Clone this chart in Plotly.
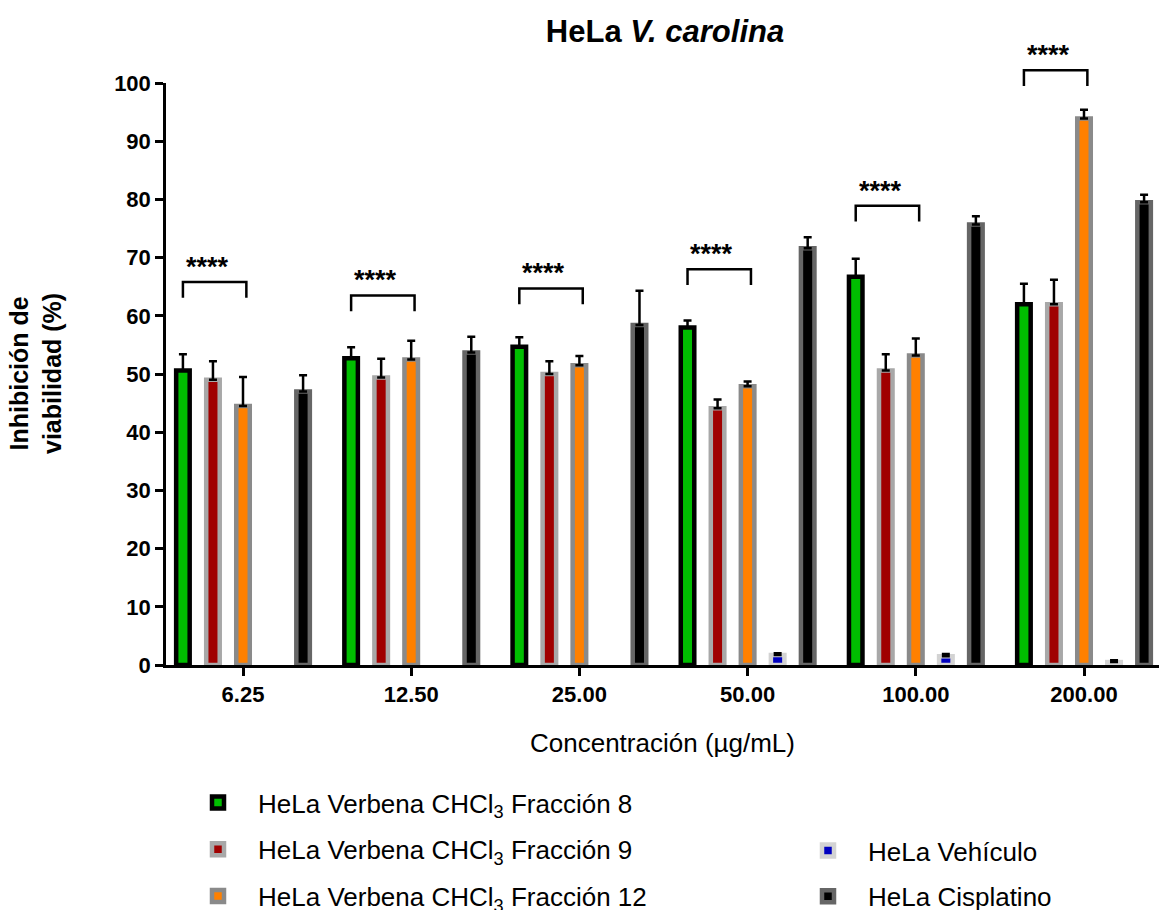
import plotly.graph_objects as go

categories = ["6.25", "12.50", "25.00", "50.00", "100.00", "200.00"]

frac8 = [50.6, 52.7, 54.7, 58.0, 66.7, 62.0]
frac8_err = [2.8, 1.9, 1.6, 1.2, 3.1, 3.5]
frac9 = [49.0, 49.4, 50.0, 44.1, 50.6, 62.0]
frac9_err = [3.2, 3.2, 2.2, 1.5, 2.8, 4.2]
frac12 = [44.5, 52.5, 51.5, 47.9, 53.2, 93.9]
frac12_err = [5.0, 3.2, 1.6, 0.8, 2.9, 1.5]
vehiculo = [None, None, None, 1.7, 1.5, 0.5]
vehiculo_err = [0, 0, 0, 0.3, 0.4, 0.3]
cisplatino = [47.0, 53.7, 58.4, 71.6, 75.7, 79.5]
cisplatino_err = [2.8, 2.7, 5.9, 1.9, 1.4, 1.3]

bracket_y = [65.8, 63.5, 64.7, 68.0, 78.9, 102.2]
star_text = ["****"] * 6

series = [
    ("HeLa Verbena CHCl<sub>3</sub> Fracción 8", frac8, frac8_err, "#00BE00", "#000000", "legend"),
    ("HeLa Verbena CHCl<sub>3</sub> Fracción 9", frac9, frac9_err, "#A00000", "#A8A8A8", "legend"),
    ("HeLa Verbena CHCl<sub>3</sub> Fracción 12", frac12, frac12_err, "#FF8000", "#8A8A8A", "legend"),
    ("HeLa Vehículo", vehiculo, vehiculo_err, "#0000C0", "#D3D3D3", "legend2"),
    ("HeLa Cisplatino", cisplatino, cisplatino_err, "#000000", "#666666", "legend2"),
]

FONT = "Liberation Sans, Arial, sans-serif"
YMAX = 100
fig = go.Figure()
for i, (name, vals, errs, fill, line, lg) in enumerate(series):
    fig.add_trace(go.Bar(
        name=name, x=categories, y=vals,
        marker=dict(color=fill, line=dict(color=line, width=4.5)),
        error_y=dict(type="data", array=errs, arrayminus=[0] * len(errs), symmetric=False,
                     color="black", thickness=2.5, width=4),
        legend=lg, legendgroup=f"g{i}",
    ))

bargap = 0.107
slot = (1 - bargap) / 5
shapes = []
annotations = []
for i, by in enumerate(bracket_y):
    x0 = i - 2 * slot
    x1 = i + 0.02
    leg = 2.7
    shapes.append(dict(type="path", xref="x", yref="paper",
                       path=f"M {x0},{(by - leg) / YMAX} L {x0},{by / YMAX} L {x1},{by / YMAX} L {x1},{(by - leg) / YMAX}",
                       line=dict(color="black", width=2.5)))
    annotations.append(dict(x=x0 + 0.145, y=(by + 2.6) / YMAX, xref="x", yref="paper",
                            text=f"<b>{star_text[i]}</b>",
                            showarrow=False, font=dict(size=27, color="black", family=FONT), yanchor="middle"))

annotations.append(dict(x=-131 / 993, y=0.5, xref="paper", yref="paper",
                        text="<b>Inhibición de<br>viabilidad (%)</b>", textangle=-90, showarrow=False,
                        font=dict(size=25, color="black", family=FONT), xanchor="center", yanchor="middle"))

fig.update_layout(
    width=1159, height=910,
    margin=dict(l=166, r=0, t=83, b=245, autoexpand=False),
    paper_bgcolor="white", plot_bgcolor="white",
    font=dict(family=FONT, color="black"),
    title=dict(text="<b>HeLa <i>V. carolina</i></b>", x=665 / 1159, xanchor="center",
               y=1 - 31 / 910, yanchor="middle", font=dict(size=31, color="black", family=FONT)),
    barmode="group", bargap=bargap, bargroupgap=0.55,
    shapes=shapes, annotations=annotations,
    showlegend=True,
    legend=dict(x=12 / 993, xanchor="left", y=(665 - 779) / 582, yanchor="top",
                font=dict(size=26, color="black", family=FONT), itemwidth=70,
                tracegroupgap=10, bgcolor="rgba(0,0,0,0)", itemclick=False, itemdoubleclick=False),
    legend2=dict(x=622 / 993, xanchor="left", y=(665 - 827) / 582, yanchor="top",
                 font=dict(size=26, color="black", family=FONT), itemwidth=70,
                 tracegroupgap=9, bgcolor="rgba(0,0,0,0)", itemclick=False, itemdoubleclick=False),
)

fig.update_xaxes(
    type="category", range=[-(243 - 166) / 168.2, (1159 - 243) / 168.2],
    showline=True, linecolor="black", linewidth=2.5, mirror=False,
    ticks="outside", ticklen=8, tickwidth=2.5, tickcolor="black",
    tickfont=dict(size=22, family=FONT, color="black"),
    tickvals=categories, ticktext=[f"<b>{c}</b>" for c in categories],
    showgrid=False, zeroline=False,
    title=dict(text="Concentración (µg/mL)", font=dict(size=26, family=FONT, color="black"), standoff=28),
)
fig.update_yaxes(
    range=[0, YMAX], tickvals=list(range(0, 101, 10)),
    ticktext=[f"<b>{v}</b>" for v in range(0, 101, 10)],
    showline=True, linecolor="black", linewidth=2.5,
    ticks="outside", ticklen=8, tickwidth=2.5, tickcolor="black",
    tickfont=dict(size=22, family=FONT, color="black"), ticklabelstandoff=0,
    showgrid=False, zeroline=False,
)

fig.write_html("out.html")
